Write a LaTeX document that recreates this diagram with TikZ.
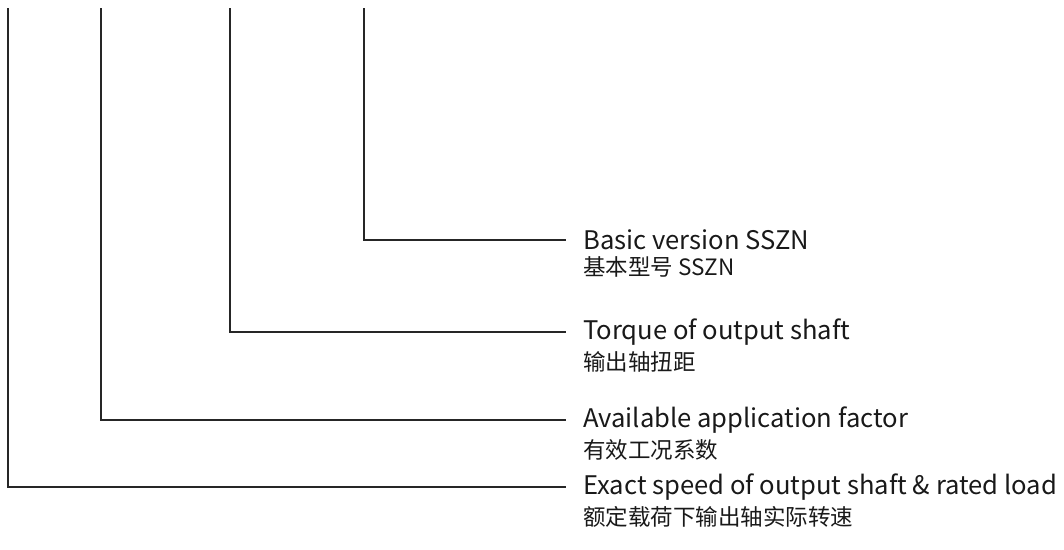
\documentclass[tikz,border=0pt]{standalone}
\usepackage{fontspec}
\setmainfont{Noto Sans CJK SC}
\usetikzlibrary{positioning}

\begin{document}
\begin{tikzpicture}[
    x=1pt, y=-1pt,
    lead/.style={draw=black!85, line width=1.1pt},
    lbl_en/.style={anchor=west, font=\fontsize{25.6}{30}\selectfont, text=black!90, inner xsep=17pt, inner ysep=0pt},
    lbl_cn/.style={font=\fontsize{22.5}{26}\selectfont, text=black!90, inner xsep=17pt, inner ysep=0pt}
]
  \useasboundingbox (0,0) rectangle (1064,549);

  % =========================================================================
  % TOPO DAS LINHAS
  % =========================================================================
  \coordinate (top_speed) at (8,8);
  \coordinate (top_factor) at (101,8);
  \coordinate (top_torque) at (230,8);
  \coordinate (top_basic) at (364,8);

  % =========================================================================
  % LEGENDAS
  % =========================================================================
  \node[lbl_en] (en_basic) at (566,240) {Basic version SSZN};
  \node[lbl_cn, below=6pt of en_basic.south west, anchor=north west] (cn_basic) {基本型号 SSZN};

  \node[lbl_en] (en_torque) at (566,332) {Torque of output shaft};
  \node[lbl_cn, below=6pt of en_torque.south west, anchor=north west] (cn_torque) {输出轴扭距};

  \node[lbl_en] (en_factor) at (566,420) {Available application factor};
  \node[lbl_cn, below=6pt of en_factor.south west, anchor=north west] (cn_factor) {有效工况系数};

  \node[lbl_en] (en_speed) at (566,487) {Exact speed of output shaft \& rated load};
  \node[lbl_cn, below=6pt of en_speed.south west, anchor=north west] (cn_speed) {额定载荷下输出轴实际转速};

  % Linhas de chamada
  \draw[lead] (top_basic) |- (en_basic.west);
  \draw[lead] (top_torque) |- (en_torque.west);
  \draw[lead] (top_factor) |- (en_factor.west);
  \draw[lead] (top_speed) |- (en_speed.west);

\end{tikzpicture}
\end{document}
